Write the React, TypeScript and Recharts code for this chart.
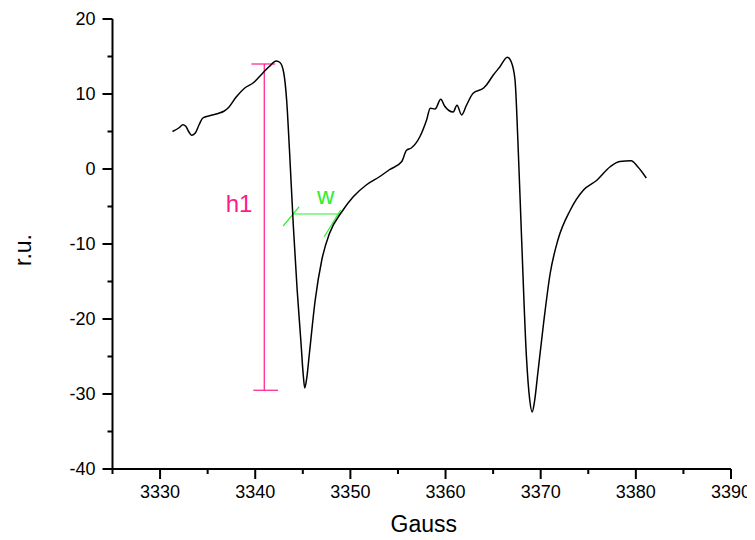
import React from 'react';
import { LineChart, Line, XAxis, YAxis, ReferenceLine, ReferenceDot, Label } from 'recharts';

// magnetic field (G) and signal (r.u.)
const gauss = [
  3331.3, 3332.0, 3332.4, 3332.7, 3333.0, 3333.3, 3333.7, 3334.1, 3334.5, 3335.2,
  3336.1, 3336.7, 3337.2, 3338.0, 3338.9, 3339.8, 3340.8, 3341.5, 3342.2, 3342.6,
  3343.0, 3343.3, 3343.6, 3344.0, 3344.4, 3344.8, 3345.05, 3345.2, 3345.4, 3345.7,
  3346.3, 3347.0, 3347.8, 3349.1, 3350.3, 3351.7, 3353.1, 3354.1, 3355.4, 3355.9,
  3356.4, 3357.3, 3358.0, 3358.4, 3358.9, 3359.5, 3359.9, 3360.8, 3361.2, 3361.7,
  3362.2, 3362.9, 3364.0, 3364.3, 3365.0, 3365.7, 3366.5, 3366.9, 3367.3, 3367.6,
  3368.0, 3368.5, 3368.85, 3369.1, 3369.35, 3369.7, 3370.3, 3371.0, 3371.8, 3373.1,
  3374.5, 3375.9, 3377.3, 3378.3, 3379.5, 3380.2, 3381.1,
];
const signal = [
  5.0, 5.5, 5.9, 5.7, 5.0, 4.5, 4.8, 5.9, 6.8, 7.1,
  7.4, 7.7, 8.2, 9.6, 10.8, 11.5, 12.8, 13.7, 14.4, 14.2,
  12.8, 9.2, 2.5, -7.5, -16.0, -23.0, -27.5, -29.2, -28.0, -24.5,
  -17.5, -12.1, -8.6, -5.7, -3.7, -2.1, -1.0, -0.1, 1.0, 2.5,
  2.8, 4.3, 6.5, 8.1, 8.0, 9.3, 8.4, 7.6, 8.5, 7.2,
  8.5, 10.1, 10.8, 11.2, 12.5, 13.6, 14.9, 14.3, 11.9, 3.9,
  -9.5, -25.0, -30.8, -32.4, -31.0, -27.2, -20.6, -13.9, -9.5, -5.5,
  -2.8, -1.5, 0.3, 1.0, 1.1, 0.3, -1.2,
];

const xTicks = [3325, 3330, 3335, 3340, 3345, 3350, 3355, 3360, 3365, 3370, 3375, 3380, 3385, 3390];
const yTicks = [-40, -35, -30, -25, -20, -15, -10, -5, 0, 5, 10, 15, 20];

// h1 (peak to peak height) and w (line width) markers
const h1X = 3340.95;
const h1Top = 14.0;
const h1Bottom = -29.5;
const h1CapTop = [3339.6, 3342.1];
const h1CapBottom = [3339.8, 3342.4];
const wY = -6.0;
const wFrom = 3343.9;
const wTo = 3348.9;
const wLeftTick = [[3342.94, -7.6], [3344.62, -5.03]];
const wRightTick = [[3347.25, -9.03], [3348.97, -5.47]];

const PINK = '#ff1a8c';
const GREEN = '#2bef2b';
const FONT = 'Arial, "Liberation Sans", sans-serif';

const data = gauss.map((g, i) => ({ x: g, y: signal[i] }));

const XTick = (props: any) => {
  const { x, y, payload } = props;
  const major = payload.value % 10 === 0;
  return (
    <g>
      <line x1={x} y1={y} x2={x} y2={y + (major ? 10 : 5)} stroke="#000" strokeWidth={2} />
      {major && (
        <text x={x} y={y + 29} textAnchor="middle" fontSize={18} fill="#000" fontFamily={FONT}>
          {payload.value}
        </text>
      )}
    </g>
  );
};

const YTick = (props: any) => {
  const { x, y, payload } = props;
  const major = payload.value % 10 === 0;
  return (
    <g>
      <line x1={x - (major ? 10 : 5)} y1={y} x2={x} y2={y} stroke="#000" strokeWidth={2} />
      {major && (
        <text x={x - 17} y={y + 6} textAnchor="end" fontSize={18} fill="#000" fontFamily={FONT}>
          {payload.value}
        </text>
      )}
    </g>
  );
};

const XTitle = (props: any) => {
  const vb = props.viewBox;
  return (
    <text x={vb.x + vb.width / 2 + 2} y={vb.y + 63} textAnchor="middle" fontSize={23} fill="#000" fontFamily={FONT}>
      Gauss
    </text>
  );
};

const YTitle = (props: any) => {
  const vb = props.viewBox;
  const cx = 15;
  const cy = vb.y + vb.height / 2 + 6;
  return (
    <text x={cx} y={cy} transform={`rotate(-90 ${cx} ${cy})`} textAnchor="middle" dominantBaseline="central" fontSize={23} fill="#000" fontFamily={FONT}>
      r.u.
    </text>
  );
};

export default function App() {
  return (
    <div style={{ fontFamily: FONT }}>
      <style>{`.recharts-surface { overflow: visible; }`}</style>
      <LineChart
        width={735}
        height={524}
        data={data}
        margin={{ top: 11, right: 12, left: 0, bottom: 0 }}
      >
        <XAxis
          type="number"
          dataKey="x"
          domain={[3325, 3390]}
          ticks={xTicks}
          interval={0}
          tick={<XTick />}
          tickLine={false}
          tickSize={0}
          tickMargin={0}
          height={63}
          axisLine={{ stroke: '#000', strokeWidth: 2 }}
        >
          <Label content={<XTitle />} />
        </XAxis>
        <YAxis
          type="number"
          domain={[-40, 20]}
          ticks={yTicks}
          interval={0}
          tick={<YTick />}
          tickLine={false}
          tickSize={0}
          tickMargin={0}
          width={104.5}
          axisLine={{ stroke: '#000', strokeWidth: 2 }}
        >
          <Label content={<YTitle />} />
        </YAxis>

        <ReferenceLine segment={[{ x: h1X, y: h1Top }, { x: h1X, y: h1Bottom }]} stroke={PINK} strokeWidth={1.2} />
        <ReferenceLine segment={[{ x: h1CapTop[0], y: h1Top }, { x: h1CapTop[1], y: h1Top }]} stroke={PINK} strokeWidth={1.2} />
        <ReferenceLine segment={[{ x: h1CapBottom[0], y: h1Bottom }, { x: h1CapBottom[1], y: h1Bottom }]} stroke={PINK} strokeWidth={1.2} />
        <ReferenceDot x={3338.3} y={-4.6} r={0} fill="none" stroke="none"
          label={{ value: 'h1', position: 'center', fill: PINK, fontSize: 24, fontFamily: FONT }} />

        <ReferenceLine segment={[{ x: wFrom, y: wY }, { x: wTo, y: wY }]} stroke={GREEN} strokeWidth={1.2} />
        <ReferenceLine segment={[{ x: wLeftTick[0][0], y: wLeftTick[0][1] }, { x: wLeftTick[1][0], y: wLeftTick[1][1] }]} stroke={GREEN} strokeWidth={1.2} />
        <ReferenceLine segment={[{ x: wRightTick[0][0], y: wRightTick[0][1] }, { x: wRightTick[1][0], y: wRightTick[1][1] }]} stroke={GREEN} strokeWidth={1.2} />
        <ReferenceDot x={3347.4} y={-3.5} r={0} fill="none" stroke="none"
          label={{ value: 'w', position: 'center', fill: GREEN, fontSize: 24, fontFamily: FONT }} />

        <Line
          type="monotone"
          dataKey="y"
          stroke="#000"
          strokeWidth={1.5}
          dot={false}
          isAnimationActive={false}
        />
      </LineChart>
    </div>
  );
}
